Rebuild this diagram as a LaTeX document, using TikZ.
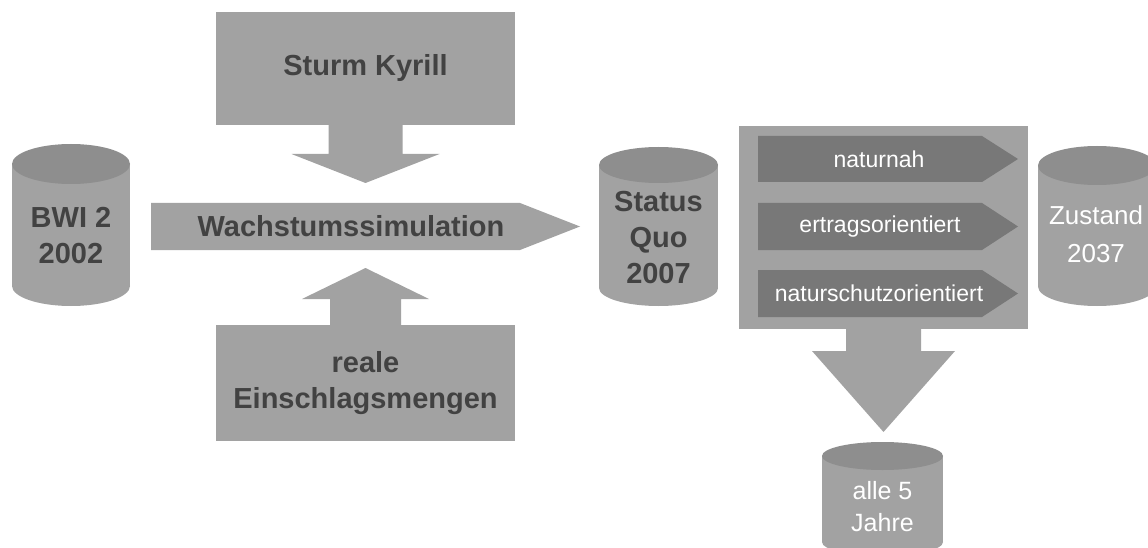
\documentclass[tikz,border=0pt]{standalone}
\usepackage{fontspec}
\setmainfont{Liberation Sans}
\usepackage{tikz}
\usetikzlibrary{calc}
\definecolor{boxgray}{RGB}{162,162,162}
\definecolor{capgray}{RGB}{142,142,142}
\definecolor{arrowgray}{RGB}{120,120,120}
\definecolor{textgray}{RGB}{66,66,66}

\begin{document}
\begin{tikzpicture}[x=1pt,y=-1pt,inner sep=0pt,outer sep=0pt,
    boldtext/.style={font=\fontsize{29}{36}\selectfont\bfseries, text=textgray, align=center},
    whitetext/.style={font=\fontsize{23}{27}\selectfont, text=white, align=center},
    cyltext/.style={font=\fontsize{26}{38}\selectfont, text=white, align=center},
    graybox/.style={fill=boxgray, minimum width=299}]
  \useasboundingbox (0,0) rectangle (1148,548);
    %
  % input data
  \fill[boxgray] (71,286) ellipse[x radius=59, y radius=20];
  \fill[boxgray] (12,164) rectangle (130,286);
  \fill[capgray] (71,164) ellipse[x radius=59, y radius=20];
  \node[boldtext] (bwi) at (71,236) {BWI 2\\2002};

  % growth simulation
  \node[graybox, boldtext, minimum height=113] (sturm) at (365.5,68.5) {Sturm Kyrill};
  \fill[boxgray] ($(sturm.south)+(-37,0)$) -- ++(0,29) -- ++(-37,0)
    -- ($(sturm.south)+(0,58)$) -- ($(sturm.south)+(74,29)$) -- ++(-37,0)
    -- ($(sturm.south)+(37,0)$) -- cycle;

  \coordinate (simstart) at (151,226.5);
  \fill[boxgray] ($(simstart)+(0,-23.5)$) -- ++(369,0) -- ($(simstart)+(429,0)$)
    -- ($(simstart)+(369,23.5)$) -- ($(simstart)+(0,23.5)$) -- cycle;
  \node[boldtext] (wachstum) at (351,226.5) {Wachstumssimulation};

  \node[graybox, boldtext, minimum height=116] (reale) at (365.5,383) {reale\\Einschlagsmengen};
  \fill[boxgray] ($(reale.north)+(-35.5,0)$) -- ++(0,-26) -- ++(-28,0)
    -- ($(reale.north)+(0,-57)$) -- ($(reale.north)+(63.5,-26)$) -- ++(-28,0)
    -- ($(reale.north)+(35.5,0)$) -- cycle;

  % status quo
  \fill[boxgray] (658.5,288) ellipse[x radius=59.5, y radius=18];
  \fill[boxgray] (599,165) rectangle (718,288);
  \fill[capgray] (658.5,165) ellipse[x radius=59.5, y radius=18];
  \node[boldtext] (status) at (658.5,238) {Status\\Quo\\2007};

  % scenarios
  \node[fill=boxgray, minimum width=289, minimum height=203] (szen) at (883.5,227.5) {};
  \fill[arrowgray] (758,136) -- (982,136) -- (1018,159) -- (982,182) -- (758,182) -- cycle;
  \node[whitetext] (naturnah) at (879,159) {naturnah};
  \fill[arrowgray] (758,203) -- (982,203) -- (1018,226.5) -- (982,250) -- (758,250) -- cycle;
  \node[whitetext] (ertrag) at (880,226.5) {ertragsorientiert};
  \fill[arrowgray] (758,270) -- (982,270) -- (1018,293.5) -- (982,317) -- (758,317) -- cycle;
  \node[whitetext] (schutz) at (879,293.5) {naturschutzorientiert};

  \fill[boxgray] ($(szen.south)+(-37.5,0)$) -- ++(0,22) -- ++(-34,0)
    -- ($(szen.south)+(0,103)$) -- ($(szen.south)+(71.5,22)$) -- ++(-34,0)
    -- ($(szen.south)+(37.5,0)$) -- cycle;

  % results
  \fill[boxgray] (1097,286.5) ellipse[x radius=59, y radius=19.5];
  \fill[boxgray] (1038,165.5) rectangle (1156,286.5);
  \fill[capgray] (1097,165.5) ellipse[x radius=59, y radius=19.5];
  \node[cyltext] (zustand) at (1096,234) {Zustand\\2037};

  \fill[boxgray] (882.5,542) ellipse[x radius=60.5, y radius=14];
  \fill[boxgray] (822,456) rectangle (943,542);
  \fill[capgray] (882.5,456) ellipse[x radius=60.5, y radius=14];
  \node[cyltext, font=\fontsize{25}{32}\selectfont] (jahre) at (882.5,507) {alle 5\\Jahre};

\end{tikzpicture}
\end{document}
